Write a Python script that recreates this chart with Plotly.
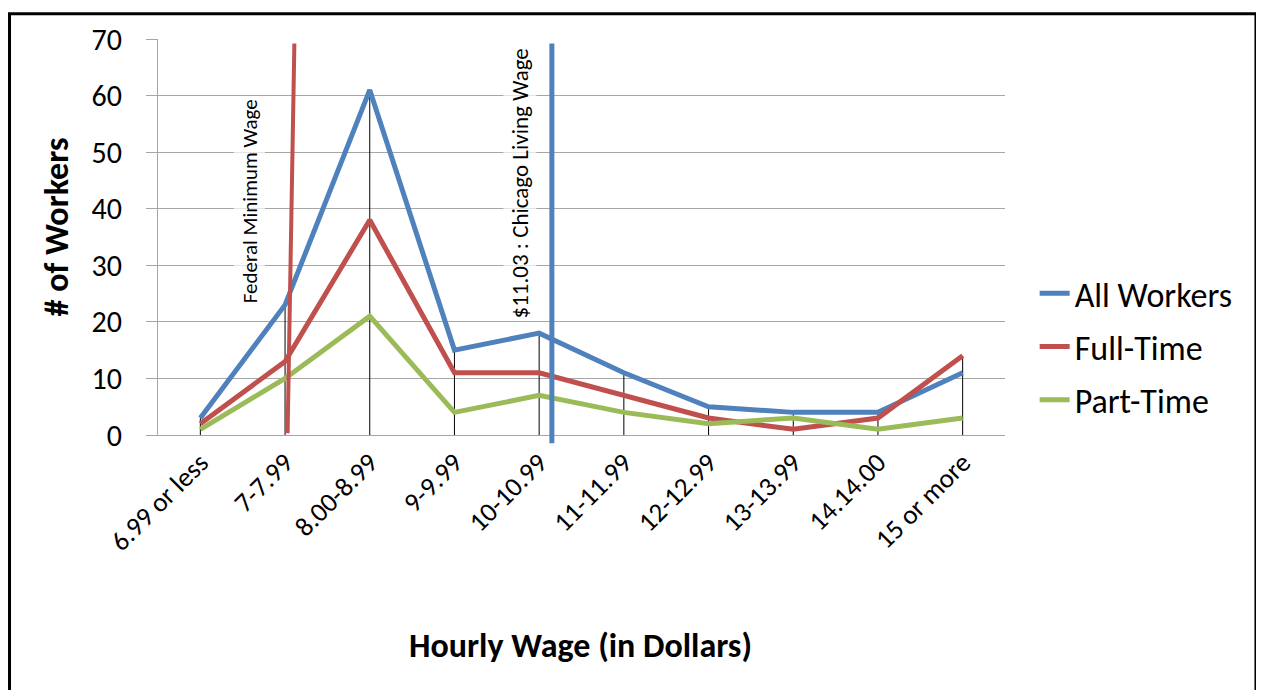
import plotly.graph_objects as go

categories = ["6.99 or less", "7-7.99", "8.00-8.99", "9-9.99", "10-10.99",
              "11-11.99", "12-12.99", "13-13.99", "14.14.00", "15 or more"]
all_workers = [3, 23, 61, 15, 18, 11, 5, 4, 4, 11]
full_time = [2, 13, 38, 11, 11, 7, 3, 1, 3, 14]
part_time = [1, 10, 21, 4, 7, 4, 2, 3, 1, 3]

series_names = ["All Workers", "Full-Time", "Part-Time"]
series_colors = ["#4F81BD", "#C0504D", "#9BBB59"]

FONT = "Carlito, Lato, sans-serif"

fig = go.Figure()
for name, vals, col in zip(series_names, [all_workers, full_time, part_time], series_colors):
    fig.add_trace(go.Scatter(x=categories, y=vals, name=name, mode="lines",
                             line=dict(color=col, width=5), legendgroup=name))

shapes = []
# drop lines from the highest point down to the axis
for i, c in enumerate(categories):
    top = max(all_workers[i], full_time[i], part_time[i])
    shapes.append(dict(type="line", xref="x", yref="y", x0=i, x1=i, y0=0, y1=top,
                       line=dict(color="black", width=1), layer="between"))
# reference lines
shapes.append(dict(type="line", xref="x", yref="y", x0=1.03, x1=1.11, y0=0.3, y1=69.2,
                   line=dict(color="#C0504D", width=4), layer="above"))
shapes.append(dict(type="line", xref="x", yref="paper", x0=4.15, x1=4.15, y0=-0.021, y1=69.2 / 70,
                   line=dict(color="#4F81BD", width=5), layer="above"))
# outer frame
shapes.append(dict(type="rect", xref="paper", yref="paper", x0=-0.1753, x1=1.2963, y0=-0.66, y1=1.0638,
                   line=dict(color="black", width=3), fillcolor="rgba(0,0,0,0)"))

annotations = [
    dict(text="Federal Minimum Wage", xref="x", yref="y", x=0.585, y=41.3, textangle=-90,
         xanchor="center", yanchor="middle",
         showarrow=False, font=dict(family=FONT, size=21, color="black"),
         bgcolor="rgba(255,255,255,0.7)", borderpad=2),
    dict(text="$11.03 : Chicago Living Wage", xref="x", yref="y", x=3.77, y=44.4, textangle=-90,
         xanchor="center", yanchor="middle",
         showarrow=False, font=dict(family=FONT, size=23, color="black"),
         bgcolor="rgba(255,255,255,0.7)", borderpad=2),
    dict(text="<b># of Workers</b>", xref="paper", yref="paper", x=-0.12, y=0.525, textangle=-90,
         xanchor="center", yanchor="middle",
         showarrow=False, font=dict(family=FONT, size=34, color="black")),
    dict(text="<b>Hourly Wage (in Dollars)</b>", xref="paper", yref="paper", x=0.4994, y=-0.5325,
         xanchor="center", yanchor="middle",
         showarrow=False, font=dict(family=FONT, size=34, color="black")),
]

fig.update_layout(
    width=1256, height=682,
    margin=dict(l=150, r=259, t=27, b=255),
    paper_bgcolor="white", plot_bgcolor="white",
    font=dict(family=FONT, color="black"),
    shapes=shapes, annotations=annotations,
    showlegend=True,
    legend=dict(x=1.035, y=0.43, xanchor="left", yanchor="top",
                font=dict(family=FONT, size=34, color="black"),
                tracegroupgap=6, traceorder="grouped", bgcolor="rgba(0,0,0,0)"),
)
fig.update_xaxes(type="category", range=[-0.5, 9.5], tickangle=-45,
                 tickfont=dict(family=FONT, size=27, color="black"),
                 showgrid=False, showline=True, linecolor="#A6A6A6", linewidth=1,
                 ticks="", fixedrange=True)
fig.update_yaxes(range=[0, 70], dtick=10, tickfont=dict(family=FONT, size=30, color="black"),
                 showgrid=True, gridcolor="#A6A6A6", gridwidth=1,
                 showline=True, linecolor="#A6A6A6", linewidth=1,
                 ticks="outside", ticklen=11, tickcolor="#A6A6A6", zeroline=False,
                 ticklabelstandoff=18)

fig.write_html("out.html")
